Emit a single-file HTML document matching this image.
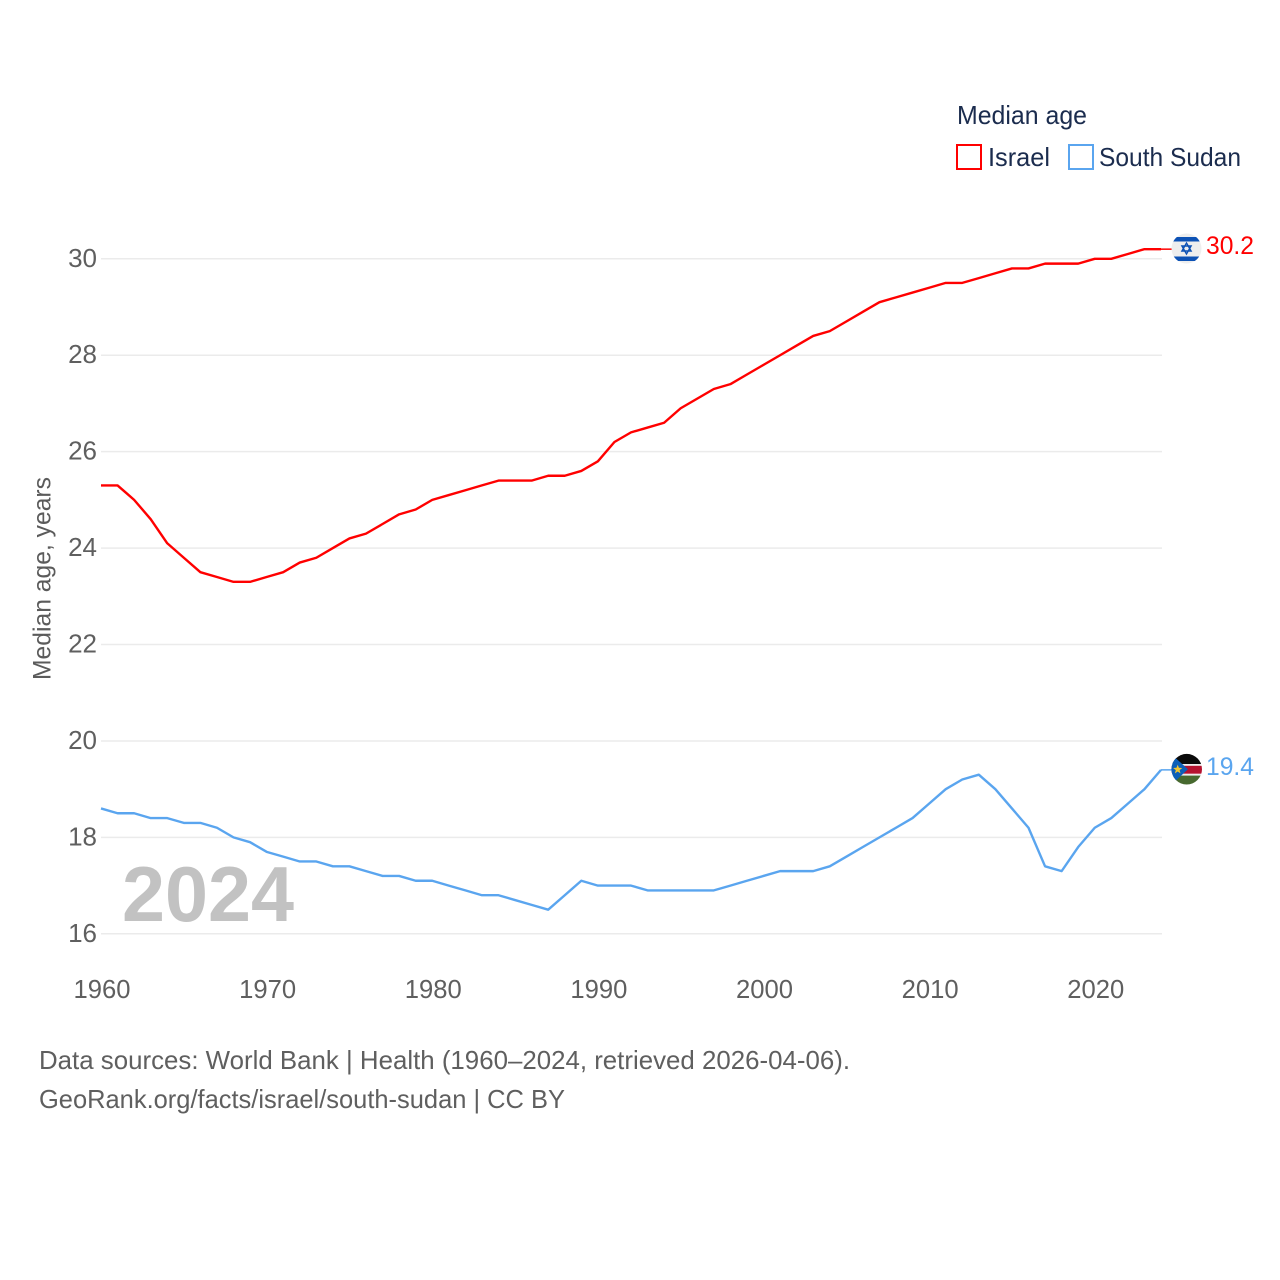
<!DOCTYPE html>
<html lang="en">
<head>
<meta charset="utf-8">
<title>Median age: Israel and South Sudan</title>
<style>
html,body{margin:0;padding:0;background:#fff;}
svg{display:block;}
text{font-family:"Liberation Sans",Arial,sans-serif;}
</style>
</head>
<body>
<svg id="chart" xmlns="http://www.w3.org/2000/svg" width="1280" height="1280" viewBox="0 0 1280 1280">
  <defs>
    <clipPath id="clip-il"><circle cx="1186.5" cy="248.5" r="15"/></clipPath>
    <clipPath id="clip-ss"><circle cx="1186.7" cy="769.2" r="15.3"/></clipPath>
  </defs>
  <rect x="0" y="0" width="1280" height="1280" fill="#ffffff"/>
  <g id="grid"></g>
  <g id="yticks"></g>
  <g id="xticks"></g>
  <text transform="translate(50.5,680) rotate(-90)" font-size="25" fill="#5b5b5b" textLength="203" lengthAdjust="spacingAndGlyphs">Median age, years</text>
  <text x="122" y="921" font-size="78" font-weight="bold" fill="#c2c2c2" textLength="172" lengthAdjust="spacingAndGlyphs">2024</text>
  <g id="series"></g>

  <g clip-path="url(#clip-il)">
    <rect x="1171" y="233" width="31" height="31" fill="#eeeeee"/>
    <rect x="1171" y="237" width="31" height="4.5" fill="#0d52b5"/>
    <rect x="1171" y="256.5" width="31" height="4.5" fill="#0d52b5"/>
    <path d="M1186.5 243 l4.6 8 h-9.2 z M1186.5 254 l-4.6 -8 h9.2 z" fill="none" stroke="#0d52b5" stroke-width="1.4"/>
  </g>
  <g clip-path="url(#clip-ss)">
    <rect x="1171" y="753" width="32" height="11" fill="#0a0a0a"/>
    <rect x="1171" y="764" width="32" height="1.8" fill="#eeeeee"/>
    <rect x="1171" y="765.8" width="32" height="8" fill="#b5122f"/>
    <rect x="1171" y="773.8" width="32" height="1.8" fill="#eeeeee"/>
    <rect x="1171" y="775.6" width="32" height="10" fill="#47692f"/>
    <path d="M1170 753 L1188 769.2 L1170 786 z" fill="#0d5fb8"/>
    <path d="M1177.7 764.6 l1.2 3.2 3.4 .2 -2.7 2.1 .9 3.3 -2.8 -1.9 -2.8 1.9 .9 -3.3 -2.7 -2.1 3.4 -.2 z" fill="#f2c531"/>
  </g>
  <text id="label-il" x="1206" y="254" font-size="25" fill="#ff0000" textLength="48" lengthAdjust="spacingAndGlyphs"></text>
  <text id="label-ss" x="1206" y="775" font-size="25" fill="#5aa5ef" textLength="48" lengthAdjust="spacingAndGlyphs"></text>

  <g>
    <text x="957" y="124" font-size="26" fill="#1b2c4e" textLength="130" lengthAdjust="spacingAndGlyphs">Median age</text>
    <g>
      <rect x="957" y="145" width="24" height="24" fill="none" stroke="#ff0000" stroke-width="2"/>
      <text x="988" y="166" font-size="26" fill="#1b2c4e" textLength="62" lengthAdjust="spacingAndGlyphs">Israel</text>
    </g>
    <g>
      <rect x="1069" y="145" width="24" height="24" fill="none" stroke="#5aa5ef" stroke-width="2"/>
      <text x="1099" y="166" font-size="26" fill="#1b2c4e" textLength="142" lengthAdjust="spacingAndGlyphs">South Sudan</text>
    </g>
  </g>

  <text x="39" y="1069" font-size="26" fill="#5f5f5f" textLength="811" lengthAdjust="spacingAndGlyphs">Data sources: World Bank | Health (1960–2024, retrieved 2026-04-06).</text>
  <text x="39" y="1108" font-size="26" fill="#5f5f5f" textLength="526" lengthAdjust="spacingAndGlyphs">GeoRank.org/facts/israel/south-sudan | CC BY</text>
</svg>
<script>
const firstYear = 1960;
const yTickValues = [16, 18, 20, 22, 24, 26, 28, 30];
const xTickValues = [1960, 1970, 1980, 1990, 2000, 2010, 2020];
const israelValues = [
  25.3,25.3,25.0,24.6,24.1,23.8,23.5,23.4,23.3,23.3,
  23.4,23.5,23.7,23.8,24.0,24.2,24.3,24.5,24.7,24.8,
  25.0,25.1,25.2,25.3,25.4,25.4,25.4,25.5,25.5,25.6,
  25.8,26.2,26.4,26.5,26.6,26.9,27.1,27.3,27.4,27.6,
  27.8,28.0,28.2,28.4,28.5,28.7,28.9,29.1,29.2,29.3,
  29.4,29.5,29.5,29.6,29.7,29.8,29.8,29.9,29.9,29.9,
  30.0,30.0,30.1,30.2,30.2
];
const southSudanValues = [
  18.6,18.5,18.5,18.4,18.4,18.3,18.3,18.2,18.0,17.9,
  17.7,17.6,17.5,17.5,17.4,17.4,17.3,17.2,17.2,17.1,
  17.1,17.0,16.9,16.8,16.8,16.7,16.6,16.5,16.8,17.1,
  17.0,17.0,17.0,16.9,16.9,16.9,16.9,16.9,17.0,17.1,
  17.2,17.3,17.3,17.3,17.4,17.6,17.8,18.0,18.2,18.4,
  18.7,19.0,19.2,19.3,19.0,18.6,18.2,17.4,17.3,17.8,
  18.2,18.4,18.7,19.0,19.4
];

const NS = 'http://www.w3.org/2000/svg';
const plotLeft = 101, plotRight = 1161, gridRight = 1162, plotTop30 = 258.8, plotBottom16 = 933.8;
const lastYear = firstYear + israelValues.length - 1;
function xScale(year) {
  return plotLeft + (year - firstYear) / (lastYear - firstYear) * (plotRight - plotLeft);
}
function yScale(v) {
  return plotBottom16 + (v - 16) / (30 - 16) * (plotTop30 - plotBottom16);
}
function svgEl(tag, attrs, parent) {
  const el = document.createElementNS(NS, tag);
  for (const k in attrs) el.setAttribute(k, attrs[k]);
  parent.appendChild(el);
  return el;
}
const grid = document.getElementById('grid');
const yticks = document.getElementById('yticks');
const xticks = document.getElementById('xticks');
const series = document.getElementById('series');

yTickValues.forEach(function (v) {
  const line = svgEl('line', {x1: plotLeft, x2: gridRight, y1: yScale(v), y2: yScale(v), stroke: '#ebebeb', 'stroke-width': 1.5}, grid);
  
  
  const t = svgEl('text', {x: 97, y: yScale(v) + 8, 'text-anchor': 'end', 'font-size': 26, fill: '#5f5f5f'}, yticks);
  
  
  t.textContent = v;
});
xTickValues.forEach(function (y) {
  const t = svgEl('text', {x: xScale(y) + 1, y: 998, 'text-anchor': 'middle', 'font-size': 26, fill: '#5f5f5f', textLength: 57, lengthAdjust: 'spacingAndGlyphs'}, xticks);
  
  
  t.textContent = y;
});
function drawSeries(values, color, name) {
  const pts = values.map(function (v, i) {
    return xScale(firstYear + i).toFixed(2) + ',' + yScale(v).toFixed(2);
  }).join(' ');
  const line = svgEl('polyline', {points: pts, fill: 'none', stroke: color, 'stroke-width': 2.4, 'stroke-linejoin': 'round'}, series);
  
  
  const endY = yScale(values[values.length - 1]);
  const conn = svgEl('line', {x1: plotRight, x2: 1172, y1: endY, y2: endY, stroke: color, 'stroke-width': 1.5}, series);
  
  
}
drawSeries(israelValues, '#ff0000', 'israel');
drawSeries(southSudanValues, '#5aa5ef', 'south-sudan');
document.getElementById('label-il').textContent = israelValues[israelValues.length - 1].toFixed(1);
document.getElementById('label-ss').textContent = southSudanValues[southSudanValues.length - 1].toFixed(1);
</script>
</body>
</html>
